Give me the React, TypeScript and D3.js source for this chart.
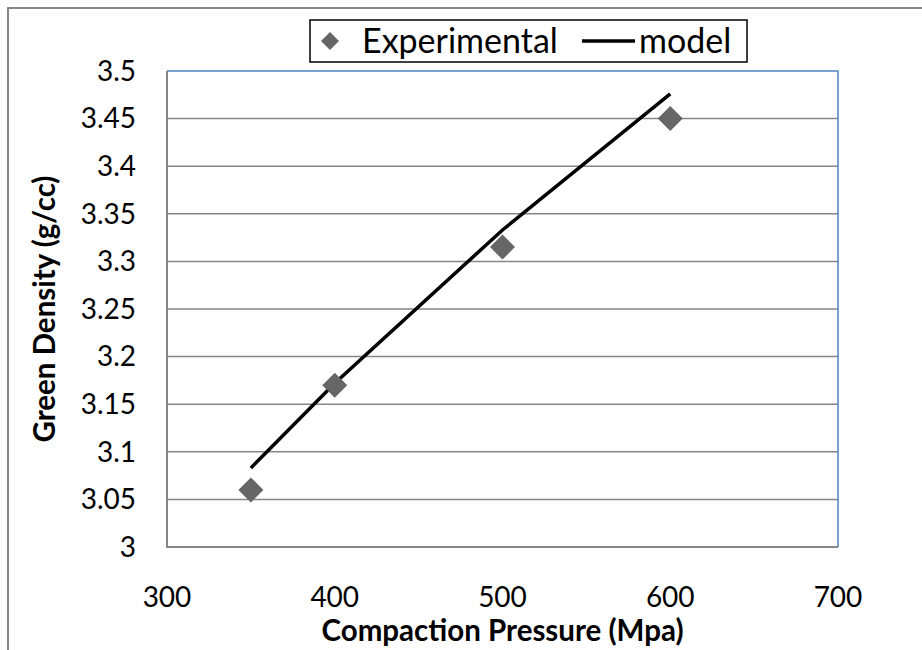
import React from "react";
import * as d3 from "d3";

// Compaction pressure (MPa) for each sample
const pressures = [350, 400, 500, 600];
// Measured green density (g/cc)
const experimental = [3.06, 3.17, 3.315, 3.45];
// Model prediction (g/cc)
const model = [3.083, 3.172, 3.333, 3.476];

const xTicks = [300, 400, 500, 600, 700];
const yTicks = [3, 3.05, 3.1, 3.15, 3.2, 3.25, 3.3, 3.35, 3.4, 3.45, 3.5];

const W = 922;
const H = 650;
const FONT = "Lato, 'Open Sans', sans-serif";

export default function App() {
  const x = d3.scaleLinear().domain([300, 700]).range([167, 838]);
  const y = d3.scaleLinear().domain([3, 3.5]).range([547, 71]);

  const line = d3
    .line<number>()
    .x((_, i) => x(pressures[i]))
    .y((d) => y(d));

  const diamond = (cx: number, cy: number, r: number) =>
    `M${cx},${cy - r}L${cx + r},${cy}L${cx},${cy + r}L${cx - r},${cy}Z`;

  const [x0, x1] = x.range();
  const [yb, yt] = y.range();

  return (
    <svg
      width={W}
      height={H}
      style={{ position: "absolute", left: 0, top: 0, background: "#fff" }}
      fontFamily={FONT}
    >
      {/* chart area frame */}
      <path d={`M8,${H}L8,8L${W},8`} fill="none" stroke="#868686" strokeWidth={2} />

      {/* horizontal gridlines */}
      {yTicks.slice(1, -1).map((t) => (
        <line key={t} x1={x0} x2={x1} y1={y(t)} y2={y(t)} stroke="#868686" strokeWidth={1.5} />
      ))}

      {/* plot area border */}
      <path d={`M${x0},${yt}L${x1},${yt}L${x1},${yb}`} fill="none" stroke="#4F81BD" strokeWidth={1.5} />
      {/* axes */}
      <path d={`M${x0},${yt}L${x0},${yb}L${x1},${yb}`} fill="none" stroke="#868686" strokeWidth={2} />

      {/* y tick labels */}
      {yTicks.map((t) => (
        <text key={t} x={136} y={y(t)} dy="0.35em" textAnchor="end" fontSize={28} fill="#000">
          {String(t)}
        </text>
      ))}
      {/* x tick labels */}
      {xTicks.map((t) => (
        <text key={t} x={x(t)} y={597} dy="0.35em" textAnchor="middle" fontSize={28} fill="#000">
          {t}
        </text>
      ))}

      {/* axis titles */}
      <text x={(x0 + x1) / 2} y={641} textAnchor="middle" fontSize={29.5} fontWeight="bold" fill="#000">
        Compaction Pressure (Mpa)
      </text>
      <text
        transform={`translate(45,${(yt + yb) / 2}) rotate(-90)`}
        dy="0.35em"
        textAnchor="middle"
        fontSize={29.5}
        fontWeight="bold"
        fill="#000"
      >
        Green Density (g/cc)
      </text>

      {/* model line */}
      <path d={line(model) ?? ""} fill="none" stroke="#000" strokeWidth={3.5} />

      {/* experimental points */}
      {experimental.map((v, i) => (
        <path key={i} d={diamond(x(pressures[i]), y(v), 12.5)} fill="#666666" />
      ))}

      {/* legend */}
      <rect x={310} y={20} width={437} height={42} fill="#fff" stroke="#000" strokeWidth={1.5} />
      <path d={diamond(330, 41, 9)} fill="#666666" />
      <text x={362} y={41} dy="0.35em" fontSize={34} fill="#000">
        Experimental
      </text>
      <line x1={582} x2={635} y1={41} y2={41} stroke="#000" strokeWidth={3.5} />
      <text x={639} y={41} dy="0.35em" fontSize={34} fill="#000">
        model
      </text>
    </svg>
  );
}
